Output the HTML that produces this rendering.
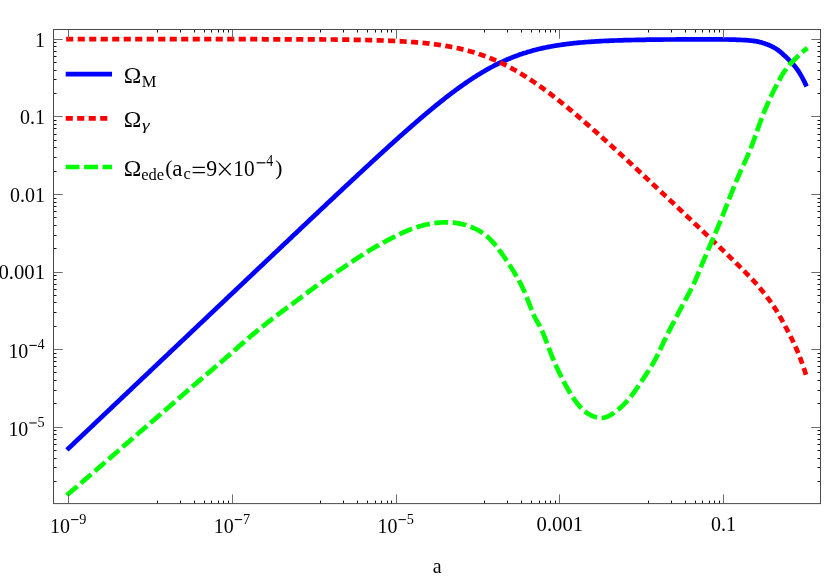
<!DOCTYPE html>
<html><head><meta charset="utf-8"><title>plot</title>
<style>
html,body{margin:0;padding:0;background:#fff;}
svg{display:block;font-family:"Liberation Serif",serif;}
</style></head><body>
<svg width="830" height="578" viewBox="0 0 830 578">
<rect width="830" height="578" fill="#fff"/>
<g fill="none" stroke-linecap="butt" stroke-linejoin="round">
<path d="M66.9,449.9 L68.7,448.2 L69.7,447.3 L70.7,446.3 L71.7,445.4 L72.7,444.4 L73.7,443.5 L74.7,442.5 L75.7,441.6 L76.7,440.6 L77.7,439.7 L78.7,438.7 L79.7,437.8 L80.7,436.8 L81.7,435.9 L82.7,434.9 L83.7,434.0 L84.7,433.1 L85.7,432.1 L86.7,431.2 L87.7,430.2 L88.7,429.3 L89.7,428.3 L90.7,427.4 L91.7,426.4 L92.7,425.5 L93.7,424.5 L94.7,423.6 L95.7,422.6 L96.7,421.7 L97.7,420.7 L98.7,419.8 L99.7,418.8 L100.7,417.9 L101.7,416.9 L102.7,416.0 L103.7,415.1 L104.7,414.1 L105.7,413.2 L106.7,412.2 L107.7,411.3 L108.7,410.3 L109.7,409.4 L110.7,408.4 L111.7,407.5 L112.7,406.5 L113.7,405.6 L114.7,404.6 L115.7,403.7 L116.7,402.7 L117.7,401.8 L118.7,400.8 L119.7,399.9 L120.7,398.9 L121.7,398.0 L122.7,397.0 L123.7,396.1 L124.7,395.2 L125.7,394.2 L126.7,393.3 L127.7,392.3 L128.7,391.4 L129.7,390.4 L130.7,389.5 L131.7,388.5 L132.7,387.6 L133.7,386.6 L134.7,385.7 L135.7,384.7 L136.7,383.8 L137.7,382.8 L138.7,381.9 L139.7,380.9 L140.7,380.0 L141.7,379.0 L142.7,378.1 L143.7,377.2 L144.7,376.2 L145.7,375.3 L146.7,374.3 L147.7,373.4 L148.7,372.4 L149.7,371.5 L150.7,370.5 L151.7,369.6 L152.7,368.6 L153.7,367.7 L154.7,366.7 L155.7,365.8 L156.7,364.8 L157.7,363.9 L158.7,362.9 L159.7,362.0 L160.7,361.0 L161.7,360.1 L162.7,359.2 L163.7,358.2 L164.7,357.3 L165.7,356.3 L166.7,355.4 L167.7,354.4 L168.7,353.5 L169.7,352.5 L170.7,351.6 L171.7,350.6 L172.7,349.7 L173.7,348.7 L174.7,347.8 L175.7,346.8 L176.7,345.9 L177.7,344.9 L178.7,344.0 L179.7,343.0 L180.7,342.1 L181.7,341.2 L182.7,340.2 L183.7,339.3 L184.7,338.3 L185.7,337.4 L186.7,336.4 L187.7,335.5 L188.7,334.5 L189.7,333.6 L190.7,332.6 L191.7,331.7 L192.7,330.7 L193.7,329.8 L194.7,328.8 L195.7,327.9 L196.7,326.9 L197.7,326.0 L198.7,325.0 L199.7,324.1 L200.7,323.2 L201.7,322.2 L202.7,321.3 L203.7,320.3 L204.7,319.4 L205.7,318.4 L206.7,317.5 L207.7,316.5 L208.7,315.6 L209.7,314.6 L210.7,313.7 L211.7,312.7 L212.7,311.8 L213.7,310.8 L214.7,309.9 L215.7,308.9 L216.7,308.0 L217.7,307.1 L218.7,306.1 L219.7,305.2 L220.7,304.2 L221.7,303.3 L222.7,302.3 L223.7,301.4 L224.7,300.4 L225.7,299.5 L226.7,298.5 L227.7,297.6 L228.7,296.6 L229.7,295.7 L230.7,294.7 L231.7,293.8 L232.7,292.8 L233.7,291.9 L234.7,291.0 L235.7,290.0 L236.7,289.1 L237.7,288.1 L238.7,287.2 L239.7,286.2 L240.7,285.3 L241.7,284.3 L242.7,283.4 L243.7,282.4 L244.7,281.5 L245.7,280.5 L246.7,279.6 L247.7,278.6 L248.7,277.7 L249.7,276.8 L250.7,275.8 L251.7,274.9 L252.7,273.9 L253.7,273.0 L254.7,272.0 L255.7,271.1 L256.7,270.1 L257.7,269.2 L258.7,268.2 L259.7,267.3 L260.7,266.3 L261.7,265.4 L262.7,264.5 L263.7,263.5 L264.7,262.6 L265.7,261.6 L266.7,260.7 L267.7,259.7 L268.7,258.8 L269.7,257.8 L270.7,256.9 L271.7,255.9 L272.7,255.0 L273.7,254.0 L274.7,253.1 L275.7,252.2 L276.7,251.2 L277.7,250.3 L278.7,249.3 L279.7,248.4 L280.7,247.4 L281.7,246.5 L282.7,245.5 L283.7,244.6 L284.7,243.6 L285.7,242.7 L286.7,241.8 L287.7,240.8 L288.7,239.9 L289.7,238.9 L290.7,238.0 L291.7,237.0 L292.7,236.1 L293.7,235.1 L294.7,234.2 L295.7,233.3 L296.7,232.3 L297.7,231.4 L298.7,230.4 L299.7,229.5 L300.7,228.5 L301.7,227.6 L302.7,226.6 L303.7,225.7 L304.7,224.8 L305.7,223.8 L306.7,222.9 L307.7,221.9 L308.7,221.0 L309.7,220.0 L310.7,219.1 L311.7,218.2 L312.7,217.2 L313.7,216.3 L314.7,215.3 L315.7,214.4 L316.7,213.5 L317.7,212.5 L318.7,211.6 L319.7,210.6 L320.7,209.7 L321.7,208.7 L322.7,207.8 L323.7,206.9 L324.7,205.9 L325.7,205.0 L326.7,204.0 L327.7,203.1 L328.7,202.2 L329.7,201.2 L330.7,200.3 L331.7,199.3 L332.7,198.4 L333.7,197.5 L334.7,196.5 L335.7,195.6 L336.7,194.7 L337.7,193.7 L338.7,192.8 L339.7,191.8 L340.7,190.9 L341.7,190.0 L342.7,189.0 L343.7,188.1 L344.7,187.2 L345.7,186.2 L346.7,185.3 L347.7,184.4 L348.7,183.4 L349.7,182.5 L350.7,181.6 L351.7,180.6 L352.7,179.7 L353.7,178.8 L354.7,177.8 L355.7,176.9 L356.7,176.0 L357.7,175.0 L358.7,174.1 L359.7,173.2 L360.7,172.3 L361.7,171.3 L362.7,170.4 L363.7,169.5 L364.7,168.6 L365.7,167.6 L366.7,166.7 L367.7,165.8 L368.7,164.9 L369.7,163.9 L370.7,163.0 L371.7,162.1 L372.7,161.2 L373.7,160.2 L374.7,159.3 L375.7,158.4 L376.7,157.5 L377.7,156.6 L378.7,155.7 L379.7,154.7 L380.7,153.8 L381.7,152.9 L382.7,152.0 L383.7,151.1 L384.7,150.2 L385.7,149.3 L386.7,148.3 L387.7,147.4 L388.7,146.5 L389.7,145.6 L390.7,144.7 L391.7,143.8 L392.7,142.9 L393.7,142.0 L394.7,141.1 L395.7,140.2 L396.7,139.3 L397.7,138.4 L398.7,137.5 L399.7,136.6 L400.7,135.7 L401.7,134.8 L402.7,134.0 L403.7,133.1 L404.7,132.2 L405.7,131.3 L406.7,130.4 L407.7,129.5 L408.7,128.7 L409.7,127.8 L410.7,126.9 L411.7,126.0 L412.7,125.1 L413.7,124.3 L414.7,123.4 L415.7,122.5 L416.7,121.7 L417.7,120.8 L418.7,120.0 L419.7,119.1 L420.7,118.2 L421.7,117.4 L422.7,116.5 L423.7,115.7 L424.7,114.8 L425.7,114.0 L426.7,113.1 L427.7,112.3 L428.7,111.5 L429.7,110.6 L430.7,109.8 L431.7,109.0 L432.7,108.2 L433.7,107.3 L434.7,106.5 L435.7,105.7 L436.7,104.9 L437.7,104.1 L438.7,103.3 L439.7,102.5 L440.7,101.7 L441.7,100.9 L442.7,100.1 L443.7,99.3 L444.7,98.5 L445.7,97.7 L446.7,96.9 L447.7,96.2 L448.7,95.4 L449.7,94.6 L450.7,93.9 L451.7,93.1 L452.7,92.4 L453.7,91.6 L454.7,90.9 L455.7,90.1 L456.7,89.4 L457.7,88.7 L458.7,87.9 L459.7,87.2 L460.7,86.5 L461.7,85.8 L462.7,85.1 L463.7,84.4 L464.7,83.7 L465.7,83.0 L466.7,82.3 L467.7,81.6 L468.7,80.9 L469.7,80.3 L470.7,79.6 L471.7,78.9 L472.7,78.3 L473.7,77.6 L474.7,77.0 L475.7,76.4 L476.7,75.7 L477.7,75.1 L478.7,74.5 L479.7,73.9 L480.7,73.3 L481.7,72.7 L482.7,72.1 L483.7,71.5 L484.7,70.9 L485.7,70.3 L486.7,69.7 L487.7,69.2 L488.7,68.6 L489.7,68.1 L490.7,67.5 L491.7,67.0 L492.7,66.5 L493.7,65.9 L494.7,65.4 L495.7,64.9 L496.7,64.4 L497.7,63.9 L498.7,63.4 L499.7,62.9 L500.7,62.5 L501.7,62.0 L502.7,61.5 L503.7,61.1 L504.7,60.6 L505.7,60.2 L506.7,59.7 L507.7,59.3 L508.7,58.9 L509.7,58.5 L510.7,58.1 L511.7,57.6 L512.7,57.3 L513.7,56.9 L514.7,56.5 L515.7,56.1 L516.7,55.7 L517.7,55.4 L518.7,55.0 L519.7,54.6 L520.7,54.3 L521.7,54.0 L522.7,53.6 L523.7,53.3 L524.7,53.0 L525.7,52.7 L526.7,52.4 L527.7,52.0 L528.7,51.7 L529.7,51.5 L530.7,51.2 L531.7,50.9 L532.7,50.6 L533.7,50.3 L534.7,50.1 L535.7,49.8 L536.7,49.6 L537.7,49.3 L538.7,49.1 L539.7,48.8 L540.7,48.6 L541.7,48.4 L542.7,48.1 L543.7,47.9 L544.7,47.7 L545.7,47.5 L546.7,47.3 L547.7,47.1 L548.7,46.9 L549.7,46.7 L550.7,46.5 L551.7,46.3 L552.7,46.2 L553.7,46.0 L554.7,45.8 L555.7,45.6 L556.7,45.5 L557.7,45.3 L558.7,45.2 L559.7,45.0 L560.7,44.9 L561.7,44.7 L562.7,44.6 L563.7,44.4 L564.7,44.3 L565.7,44.2 L566.7,44.0 L567.7,43.9 L568.7,43.8 L569.7,43.7 L570.7,43.6 L571.7,43.5 L572.7,43.3 L573.7,43.2 L574.7,43.1 L575.7,43.0 L576.7,42.9 L577.7,42.8 L578.7,42.7 L579.7,42.6 L580.7,42.5 L581.7,42.5 L582.7,42.4 L583.7,42.3 L584.7,42.2 L585.7,42.1 L586.7,42.0 L587.7,42.0 L588.7,41.9 L589.7,41.8 L590.7,41.8 L591.7,41.7 L592.7,41.6 L593.7,41.6 L594.7,41.5 L595.7,41.4 L596.7,41.4 L597.7,41.3 L598.7,41.3 L599.7,41.2 L600.7,41.1 L601.7,41.1 L602.7,41.0 L603.7,41.0 L604.7,40.9 L605.7,40.9 L606.7,40.9 L607.7,40.8 L608.7,40.8 L609.7,40.7 L610.7,40.7 L611.7,40.6 L612.7,40.6 L613.7,40.6 L614.7,40.5 L615.7,40.5 L616.7,40.5 L617.7,40.4 L618.7,40.4 L619.7,40.4 L620.7,40.3 L621.7,40.3 L622.7,40.3 L623.7,40.2 L624.7,40.2 L625.7,40.2 L626.7,40.2 L627.7,40.1 L628.7,40.1 L629.7,40.1 L630.7,40.1 L631.7,40.0 L632.7,40.0 L633.7,40.0 L634.7,40.0 L635.7,39.9 L636.7,39.9 L637.7,39.9 L638.7,39.9 L639.7,39.9 L640.7,39.8 L641.7,39.8 L642.7,39.8 L643.7,39.8 L644.7,39.8 L645.7,39.8 L646.7,39.7 L647.7,39.7 L648.7,39.7 L649.7,39.7 L650.7,39.7 L651.7,39.7 L652.7,39.7 L653.7,39.7 L654.7,39.6 L655.7,39.6 L656.7,39.6 L657.7,39.6 L658.7,39.6 L659.7,39.6 L660.7,39.6 L661.7,39.6 L662.7,39.6 L663.7,39.5 L664.7,39.5 L665.7,39.5 L666.7,39.5 L667.7,39.5 L668.7,39.5 L669.7,39.5 L670.7,39.5 L671.7,39.5 L672.7,39.5 L673.7,39.5 L674.7,39.5 L675.7,39.5 L676.7,39.4 L677.7,39.4 L678.7,39.4 L679.7,39.4 L680.7,39.4 L681.7,39.4 L682.7,39.4 L683.7,39.4 L684.7,39.4 L685.7,39.4 L686.7,39.4 L687.7,39.4 L688.7,39.4 L689.7,39.4 L690.7,39.4 L691.7,39.4 L692.7,39.4 L693.7,39.4 L694.7,39.4 L695.7,39.4 L696.7,39.4 L697.7,39.4 L698.7,39.4 L699.7,39.4 L700.7,39.4 L701.7,39.4 L702.7,39.4 L703.7,39.4 L704.7,39.4 L705.7,39.4 L706.7,39.4 L707.7,39.4 L708.7,39.4 L709.7,39.4 L710.7,39.4 L711.7,39.4 L712.7,39.4 L713.7,39.4 L714.7,39.4 L715.7,39.4 L716.7,39.4 L717.7,39.4 L718.7,39.4 L719.7,39.4 L720.7,39.4 L721.7,39.4 L722.7,39.4 L723.7,39.5 L724.7,39.5 L725.7,39.5 L726.7,39.5 L727.7,39.5 L728.7,39.5 L729.7,39.6 L730.7,39.6 L731.7,39.6 L732.7,39.6 L733.7,39.7 L734.7,39.7 L735.7,39.7 L736.7,39.8 L737.7,39.8 L738.7,39.8 L739.7,39.9 L740.7,39.9 L741.7,40.0 L742.7,40.0 L743.7,40.1 L744.7,40.1 L745.7,40.2 L746.7,40.2 L747.7,40.3 L748.7,40.4 L749.7,40.5 L750.7,40.6 L751.7,40.7 L752.7,40.8 L753.7,40.9 L754.7,41.1 L755.7,41.2 L756.7,41.4 L757.7,41.6 L758.7,41.8 L759.7,42.1 L760.7,42.3 L761.7,42.6 L762.7,42.9 L763.7,43.2 L764.7,43.5 L765.7,43.9 L766.7,44.2 L767.7,44.6 L768.7,45.0 L769.7,45.4 L770.7,45.9 L771.7,46.4 L772.7,46.9 L773.7,47.4 L774.7,48.0 L775.7,48.6 L776.7,49.2 L777.7,49.9 L778.7,50.7 L779.7,51.4 L780.7,52.2 L781.7,53.1 L782.7,54.0 L783.7,54.9 L784.7,55.8 L785.7,56.7 L786.7,57.7 L787.7,58.6 L788.7,59.6 L789.7,60.6 L790.7,61.6 L791.7,62.6 L792.7,63.7 L793.7,64.9 L794.7,66.1 L795.7,67.4 L796.7,68.7 L797.7,70.1 L798.7,71.6 L799.7,73.2 L800.7,74.9 L801.7,76.6 L802.7,78.5 L803.7,80.4 L804.7,82.4 L805.5,84.1 L806.6,86.4" stroke="#0000ff" stroke-width="4.7"/>
<path d="M66.2,39.2 L68.7,39.2 L69.7,39.2 L70.7,39.2 L71.7,39.2 L72.7,39.2 L73.7,39.2 L74.7,39.2 L75.7,39.2 L76.7,39.2 L77.7,39.2 L78.7,39.2 L79.7,39.2 L80.7,39.2 L81.7,39.2 L82.7,39.2 L83.7,39.2 L84.7,39.2 L85.7,39.2 L86.7,39.2 L87.7,39.2 L88.7,39.2 L89.7,39.2 L90.7,39.2 L91.7,39.2 L92.7,39.2 L93.7,39.2 L94.7,39.2 L95.7,39.2 L96.7,39.2 L97.7,39.2 L98.7,39.2 L99.7,39.2 L100.7,39.2 L101.7,39.2 L102.7,39.2 L103.7,39.2 L104.7,39.2 L105.7,39.2 L106.7,39.2 L107.7,39.2 L108.7,39.2 L109.7,39.2 L110.7,39.2 L111.7,39.2 L112.7,39.2 L113.7,39.2 L114.7,39.2 L115.7,39.2 L116.7,39.2 L117.7,39.2 L118.7,39.2 L119.7,39.2 L120.7,39.2 L121.7,39.2 L122.7,39.2 L123.7,39.2 L124.7,39.2 L125.7,39.2 L126.7,39.2 L127.7,39.2 L128.7,39.2 L129.7,39.2 L130.7,39.2 L131.7,39.2 L132.7,39.2 L133.7,39.2 L134.7,39.2 L135.7,39.2 L136.7,39.2 L137.7,39.2 L138.7,39.2 L139.7,39.2 L140.7,39.2 L141.7,39.2 L142.7,39.2 L143.7,39.2 L144.7,39.2 L145.7,39.2 L146.7,39.2 L147.7,39.2 L148.7,39.2 L149.7,39.2 L150.7,39.2 L151.7,39.2 L152.7,39.2 L153.7,39.2 L154.7,39.2 L155.7,39.2 L156.7,39.2 L157.7,39.2 L158.7,39.2 L159.7,39.2 L160.7,39.2 L161.7,39.2 L162.7,39.2 L163.7,39.2 L164.7,39.2 L165.7,39.2 L166.7,39.2 L167.7,39.2 L168.7,39.2 L169.7,39.2 L170.7,39.2 L171.7,39.2 L172.7,39.2 L173.7,39.2 L174.7,39.2 L175.7,39.2 L176.7,39.2 L177.7,39.2 L178.7,39.2 L179.7,39.2 L180.7,39.2 L181.7,39.2 L182.7,39.2 L183.7,39.2 L184.7,39.2 L185.7,39.2 L186.7,39.2 L187.7,39.2 L188.7,39.2 L189.7,39.2 L190.7,39.2 L191.7,39.2 L192.7,39.2 L193.7,39.2 L194.7,39.2 L195.7,39.2 L196.7,39.2 L197.7,39.2 L198.7,39.2 L199.7,39.2 L200.7,39.2 L201.7,39.2 L202.7,39.2 L203.7,39.2 L204.7,39.2 L205.7,39.2 L206.7,39.2 L207.7,39.2 L208.7,39.2 L209.7,39.2 L210.7,39.2 L211.7,39.2 L212.7,39.2 L213.7,39.2 L214.7,39.2 L215.7,39.2 L216.7,39.2 L217.7,39.2 L218.7,39.2 L219.7,39.2 L220.7,39.2 L221.7,39.2 L222.7,39.2 L223.7,39.2 L224.7,39.2 L225.7,39.2 L226.7,39.2 L227.7,39.2 L228.7,39.2 L229.7,39.2 L230.7,39.2 L231.7,39.2 L232.7,39.2 L233.7,39.2 L234.7,39.2 L235.7,39.2 L236.7,39.2 L237.7,39.2 L238.7,39.2 L239.7,39.2 L240.7,39.2 L241.7,39.2 L242.7,39.2 L243.7,39.2 L244.7,39.2 L245.7,39.2 L246.7,39.2 L247.7,39.2 L248.7,39.2 L249.7,39.2 L250.7,39.2 L251.7,39.2 L252.7,39.2 L253.7,39.2 L254.7,39.2 L255.7,39.2 L256.7,39.2 L257.7,39.2 L258.7,39.2 L259.7,39.2 L260.7,39.2 L261.7,39.2 L262.7,39.2 L263.7,39.3 L264.7,39.3 L265.7,39.3 L266.7,39.3 L267.7,39.3 L268.7,39.3 L269.7,39.3 L270.7,39.3 L271.7,39.3 L272.7,39.3 L273.7,39.3 L274.7,39.3 L275.7,39.3 L276.7,39.3 L277.7,39.3 L278.7,39.3 L279.7,39.3 L280.7,39.3 L281.7,39.3 L282.7,39.3 L283.7,39.3 L284.7,39.3 L285.7,39.3 L286.7,39.3 L287.7,39.3 L288.7,39.3 L289.7,39.3 L290.7,39.3 L291.7,39.3 L292.7,39.3 L293.7,39.3 L294.7,39.3 L295.7,39.3 L296.7,39.3 L297.7,39.3 L298.7,39.3 L299.7,39.3 L300.7,39.3 L301.7,39.3 L302.7,39.3 L303.7,39.3 L304.7,39.4 L305.7,39.4 L306.7,39.4 L307.7,39.4 L308.7,39.4 L309.7,39.4 L310.7,39.4 L311.7,39.4 L312.7,39.4 L313.7,39.4 L314.7,39.4 L315.7,39.4 L316.7,39.4 L317.7,39.4 L318.7,39.4 L319.7,39.4 L320.7,39.4 L321.7,39.4 L322.7,39.5 L323.7,39.5 L324.7,39.5 L325.7,39.5 L326.7,39.5 L327.7,39.5 L328.7,39.5 L329.7,39.5 L330.7,39.5 L331.7,39.5 L332.7,39.5 L333.7,39.5 L334.7,39.5 L335.7,39.6 L336.7,39.6 L337.7,39.6 L338.7,39.6 L339.7,39.6 L340.7,39.6 L341.7,39.6 L342.7,39.6 L343.7,39.6 L344.7,39.7 L345.7,39.7 L346.7,39.7 L347.7,39.7 L348.7,39.7 L349.7,39.7 L350.7,39.7 L351.7,39.8 L352.7,39.8 L353.7,39.8 L354.7,39.8 L355.7,39.8 L356.7,39.8 L357.7,39.9 L358.7,39.9 L359.7,39.9 L360.7,39.9 L361.7,39.9 L362.7,39.9 L363.7,40.0 L364.7,40.0 L365.7,40.0 L366.7,40.0 L367.7,40.1 L368.7,40.1 L369.7,40.1 L370.7,40.1 L371.7,40.2 L372.7,40.2 L373.7,40.2 L374.7,40.2 L375.7,40.3 L376.7,40.3 L377.7,40.3 L378.7,40.4 L379.7,40.4 L380.7,40.4 L381.7,40.5 L382.7,40.5 L383.7,40.5 L384.7,40.6 L385.7,40.6 L386.7,40.6 L387.7,40.7 L388.7,40.7 L389.7,40.8 L390.7,40.8 L391.7,40.8 L392.7,40.9 L393.7,40.9 L394.7,41.0 L395.7,41.0 L396.7,41.1 L397.7,41.1 L398.7,41.2 L399.7,41.2 L400.7,41.3 L401.7,41.3 L402.7,41.4 L403.7,41.5 L404.7,41.5 L405.7,41.6 L406.7,41.6 L407.7,41.7 L408.7,41.8 L409.7,41.8 L410.7,41.9 L411.7,42.0 L412.7,42.1 L413.7,42.1 L414.7,42.2 L415.7,42.3 L416.7,42.4 L417.7,42.5 L418.7,42.6 L419.7,42.6 L420.7,42.7 L421.7,42.8 L422.7,42.9 L423.7,43.0 L424.7,43.1 L425.7,43.2 L426.7,43.3 L427.7,43.4 L428.7,43.5 L429.7,43.7 L430.7,43.8 L431.7,43.9 L432.7,44.0 L433.7,44.1 L434.7,44.3 L435.7,44.4 L436.7,44.5 L437.7,44.7 L438.7,44.8 L439.7,45.0 L440.7,45.1 L441.7,45.3 L442.7,45.4 L443.7,45.6 L444.7,45.7 L445.7,45.9 L446.7,46.1 L447.7,46.2 L448.7,46.4 L449.7,46.6 L450.7,46.8 L451.7,47.0 L452.7,47.2 L453.7,47.4 L454.7,47.6 L455.7,47.8 L456.7,48.0 L457.7,48.2 L458.7,48.4 L459.7,48.6 L460.7,48.9 L461.7,49.1 L462.7,49.4 L463.7,49.6 L464.7,49.9 L465.7,50.1 L466.7,50.4 L467.7,50.6 L468.7,50.9 L469.7,51.2 L470.7,51.5 L471.7,51.8 L472.7,52.0 L473.7,52.3 L474.7,52.6 L475.7,53.0 L476.7,53.3 L477.7,53.6 L478.7,53.9 L479.7,54.3 L480.7,54.6 L481.7,55.0 L482.7,55.3 L483.7,55.7 L484.7,56.0 L485.7,56.4 L486.7,56.8 L487.7,57.2 L488.7,57.6 L489.7,58.0 L490.7,58.4 L491.7,58.8 L492.7,59.2 L493.7,59.6 L494.7,60.0 L495.7,60.5 L496.7,60.9 L497.7,61.4 L498.7,61.8 L499.7,62.3 L500.7,62.8 L501.7,63.2 L502.7,63.7 L503.7,64.2 L504.7,64.7 L505.7,65.2 L506.7,65.7 L507.7,66.2 L508.7,66.8 L509.7,67.3 L510.7,67.8 L511.7,68.4 L512.7,68.9 L513.7,69.5 L514.7,70.0 L515.7,70.6 L516.7,71.2 L517.7,71.8 L518.7,72.4 L519.7,72.9 L520.7,73.5 L521.7,74.2 L522.7,74.8 L523.7,75.4 L524.7,76.0 L525.7,76.6 L526.7,77.3 L527.7,77.9 L528.7,78.6 L529.7,79.2 L530.7,79.9 L531.7,80.6 L532.7,81.2 L533.7,81.9 L534.7,82.6 L535.7,83.3 L536.7,84.0 L537.7,84.7 L538.7,85.4 L539.7,86.1 L540.7,86.8 L541.7,87.5 L542.7,88.2 L543.7,89.0 L544.7,89.7 L545.7,90.4 L546.7,91.2 L547.7,91.9 L548.7,92.7 L549.7,93.4 L550.7,94.2 L551.7,95.0 L552.7,95.7 L553.7,96.5 L554.7,97.3 L555.7,98.1 L556.7,98.8 L557.7,99.6 L558.7,100.4 L559.7,101.2 L560.7,102.0 L561.7,102.8 L562.7,103.6 L563.7,104.4 L564.7,105.2 L565.7,106.1 L566.7,106.9 L567.7,107.7 L568.7,108.5 L569.7,109.4 L570.7,110.2 L571.7,111.0 L572.7,111.9 L573.7,112.7 L574.7,113.5 L575.7,114.4 L576.7,115.2 L577.7,116.1 L578.7,116.9 L579.7,117.8 L580.7,118.6 L581.7,119.5 L582.7,120.4 L583.7,121.2 L584.7,122.1 L585.7,123.0 L586.7,123.8 L587.7,124.7 L588.7,125.6 L589.7,126.4 L590.7,127.3 L591.7,128.2 L592.7,129.1 L593.7,130.0 L594.7,130.8 L595.7,131.7 L596.7,132.6 L597.7,133.5 L598.7,134.4 L599.7,135.3 L600.7,136.2 L601.7,137.1 L602.7,138.0 L603.7,138.9 L604.7,139.8 L605.7,140.7 L606.7,141.6 L607.7,142.5 L608.7,143.4 L609.7,144.3 L610.7,145.2 L611.7,146.1 L612.7,147.0 L613.7,147.9 L614.7,148.8 L615.7,149.7 L616.7,150.7 L617.7,151.6 L618.7,152.5 L619.7,153.4 L620.7,154.3 L621.7,155.2 L622.7,156.1 L623.7,157.1 L624.7,158.0 L625.7,158.9 L626.7,159.8 L627.7,160.7 L628.7,161.7 L629.7,162.6 L630.7,163.5 L631.7,164.4 L632.7,165.4 L633.7,166.3 L634.7,167.2 L635.7,168.1 L636.7,169.1 L637.7,170.0 L638.7,170.9 L639.7,171.9 L640.7,172.8 L641.7,173.7 L642.7,174.6 L643.7,175.6 L644.7,176.5 L645.7,177.4 L646.7,178.4 L647.7,179.3 L648.7,180.2 L649.7,181.2 L650.7,182.1 L651.7,183.0 L652.7,184.0 L653.7,184.9 L654.7,185.8 L655.7,186.8 L656.7,187.7 L657.7,188.6 L658.7,189.6 L659.7,190.5 L660.7,191.5 L661.7,192.4 L662.7,193.3 L663.7,194.3 L664.7,195.2 L665.7,196.2 L666.7,197.1 L667.7,198.0 L668.7,199.0 L669.7,199.9 L670.7,200.8 L671.7,201.8 L672.7,202.7 L673.7,203.7 L674.7,204.6 L675.7,205.6 L676.7,206.5 L677.7,207.4 L678.7,208.4 L679.7,209.3 L680.7,210.3 L681.7,211.2 L682.7,212.1 L683.7,213.1 L684.7,214.0 L685.7,215.0 L686.7,215.9 L687.7,216.9 L688.7,217.8 L689.7,218.7 L690.7,219.7 L691.7,220.6 L692.7,221.6 L693.7,222.5 L694.7,223.5 L695.7,224.4 L696.7,225.4 L697.7,226.3 L698.7,227.3 L699.7,228.2 L700.7,229.1 L701.7,230.1 L702.7,231.0 L703.7,232.0 L704.7,232.9 L705.7,233.9 L706.7,234.8 L707.7,235.8 L708.7,236.7 L709.7,237.7 L710.7,238.6 L711.7,239.6 L712.7,240.5 L713.7,241.5 L714.7,242.4 L715.7,243.4 L716.7,244.3 L717.7,245.3 L718.7,246.2 L719.7,247.2 L720.7,248.2 L721.7,249.1 L722.7,250.1 L723.7,251.0 L724.7,252.0 L725.7,253.0 L726.7,253.9 L727.7,254.9 L728.7,255.9 L729.7,256.8 L730.7,257.8 L731.7,258.8 L732.7,259.7 L733.7,260.7 L734.7,261.7 L735.7,262.7 L736.7,263.7 L737.7,264.6 L738.7,265.6 L739.7,266.6 L740.7,267.6 L741.7,268.6 L742.7,269.6 L743.7,270.6 L744.7,271.6 L745.7,272.6 L746.7,273.6 L747.7,274.6 L748.7,275.7 L749.7,276.7 L750.7,277.7 L751.7,278.8 L752.7,279.9 L753.7,280.9 L754.7,282.0 L755.7,283.1 L756.7,284.3 L757.7,285.4 L758.7,286.6 L759.7,287.8 L760.7,289.0 L761.7,290.2 L762.7,291.4 L763.7,292.7 L764.7,293.9 L765.7,295.2 L766.7,296.5 L767.7,297.9 L768.7,299.2 L769.7,300.6 L770.7,302.0 L771.7,303.4 L772.7,304.9 L773.7,306.4 L774.7,307.9 L775.7,309.4 L776.7,311.0 L777.7,312.7 L778.7,314.3 L779.7,316.1 L780.7,317.8 L781.7,319.6 L782.7,321.5 L783.7,323.3 L784.7,325.2 L785.7,327.1 L786.7,328.9 L787.7,330.8 L788.7,332.8 L789.7,334.7 L790.7,336.7 L791.7,338.6 L792.7,340.7 L793.7,342.8 L794.7,344.9 L795.7,347.2 L796.7,349.5 L797.7,351.8 L798.7,354.3 L799.7,356.8 L800.7,359.4 L801.7,362.1 L802.7,364.9 L803.7,367.8 L804.7,370.8 L805.5,373.2 L806.3,375.6" stroke="#ff0000" stroke-width="4.7" stroke-dasharray="7.1 4.4"/>
<path d="M66.8,495.2 L68.7,493.6 L69.7,492.7 L70.7,491.9 L71.7,491.0 L72.7,490.2 L73.7,489.3 L74.7,488.5 L75.7,487.6 L76.7,486.8 L77.7,485.9 L78.7,485.0 L79.7,484.2 L80.7,483.3 L81.7,482.5 L82.7,481.6 L83.7,480.7 L84.7,479.9 L85.7,479.0 L86.7,478.2 L87.7,477.3 L88.7,476.4 L89.7,475.6 L90.7,474.7 L91.7,473.8 L92.7,473.0 L93.7,472.1 L94.7,471.2 L95.7,470.4 L96.7,469.5 L97.7,468.7 L98.7,467.8 L99.7,466.9 L100.7,466.1 L101.7,465.2 L102.7,464.3 L103.7,463.5 L104.7,462.6 L105.7,461.7 L106.7,460.9 L107.7,460.0 L108.7,459.1 L109.7,458.3 L110.7,457.4 L111.7,456.5 L112.7,455.7 L113.7,454.8 L114.7,453.9 L115.7,453.1 L116.7,452.2 L117.7,451.3 L118.7,450.5 L119.7,449.6 L120.7,448.7 L121.7,447.9 L122.7,447.0 L123.7,446.1 L124.7,445.2 L125.7,444.4 L126.7,443.5 L127.7,442.6 L128.7,441.8 L129.7,440.9 L130.7,440.0 L131.7,439.2 L132.7,438.3 L133.7,437.4 L134.7,436.6 L135.7,435.7 L136.7,434.8 L137.7,434.0 L138.7,433.1 L139.7,432.2 L140.7,431.4 L141.7,430.5 L142.7,429.7 L143.7,428.8 L144.7,427.9 L145.7,427.1 L146.7,426.2 L147.7,425.3 L148.7,424.5 L149.7,423.6 L150.7,422.7 L151.7,421.9 L152.7,421.0 L153.7,420.1 L154.7,419.3 L155.7,418.4 L156.7,417.6 L157.7,416.7 L158.7,415.8 L159.7,415.0 L160.7,414.1 L161.7,413.2 L162.7,412.4 L163.7,411.5 L164.7,410.6 L165.7,409.8 L166.7,408.9 L167.7,408.0 L168.7,407.1 L169.7,406.3 L170.7,405.4 L171.7,404.5 L172.7,403.7 L173.7,402.8 L174.7,401.9 L175.7,401.0 L176.7,400.2 L177.7,399.3 L178.7,398.4 L179.7,397.6 L180.7,396.7 L181.7,395.8 L182.7,395.0 L183.7,394.1 L184.7,393.2 L185.7,392.3 L186.7,391.5 L187.7,390.6 L188.7,389.7 L189.7,388.9 L190.7,388.0 L191.7,387.2 L192.7,386.3 L193.7,385.4 L194.7,384.6 L195.7,383.7 L196.7,382.8 L197.7,382.0 L198.7,381.1 L199.7,380.3 L200.7,379.4 L201.7,378.6 L202.7,377.7 L203.7,376.9 L204.7,376.0 L205.7,375.1 L206.7,374.3 L207.7,373.4 L208.7,372.6 L209.7,371.8 L210.7,370.9 L211.7,370.1 L212.7,369.2 L213.7,368.4 L214.7,367.5 L215.7,366.6 L216.7,365.8 L217.7,364.9 L218.7,364.1 L219.7,363.2 L220.7,362.4 L221.7,361.5 L222.7,360.6 L223.7,359.8 L224.7,358.9 L225.7,358.0 L226.7,357.2 L227.7,356.3 L228.7,355.4 L229.7,354.5 L230.7,353.7 L231.7,352.8 L232.7,351.9 L233.7,351.0 L234.7,350.1 L235.7,349.3 L236.7,348.4 L237.7,347.5 L238.7,346.6 L239.7,345.7 L240.7,344.9 L241.7,344.0 L242.7,343.1 L243.7,342.3 L244.7,341.4 L245.7,340.5 L246.7,339.7 L247.7,338.8 L248.7,337.9 L249.7,337.1 L250.7,336.2 L251.7,335.4 L252.7,334.6 L253.7,333.7 L254.7,332.9 L255.7,332.1 L256.7,331.2 L257.7,330.4 L258.7,329.6 L259.7,328.8 L260.7,328.0 L261.7,327.2 L262.7,326.4 L263.7,325.6 L264.7,324.8 L265.7,324.0 L266.7,323.2 L267.7,322.4 L268.7,321.6 L269.7,320.8 L270.7,320.1 L271.7,319.3 L272.7,318.5 L273.7,317.8 L274.7,317.0 L275.7,316.2 L276.7,315.5 L277.7,314.7 L278.7,314.0 L279.7,313.2 L280.7,312.5 L281.7,311.7 L282.7,311.0 L283.7,310.3 L284.7,309.5 L285.7,308.8 L286.7,308.0 L287.7,307.3 L288.7,306.6 L289.7,305.8 L290.7,305.1 L291.7,304.4 L292.7,303.6 L293.7,302.9 L294.7,302.1 L295.7,301.4 L296.7,300.6 L297.7,299.9 L298.7,299.2 L299.7,298.4 L300.7,297.7 L301.7,296.9 L302.7,296.2 L303.7,295.4 L304.7,294.7 L305.7,293.9 L306.7,293.2 L307.7,292.4 L308.7,291.7 L309.7,290.9 L310.7,290.2 L311.7,289.4 L312.7,288.7 L313.7,288.0 L314.7,287.2 L315.7,286.5 L316.7,285.8 L317.7,285.0 L318.7,284.3 L319.7,283.6 L320.7,282.9 L321.7,282.2 L322.7,281.5 L323.7,280.8 L324.7,280.1 L325.7,279.4 L326.7,278.7 L327.7,278.0 L328.7,277.3 L329.7,276.6 L330.7,276.0 L331.7,275.3 L332.7,274.6 L333.7,273.9 L334.7,273.3 L335.7,272.6 L336.7,271.9 L337.7,271.3 L338.7,270.6 L339.7,269.9 L340.7,269.3 L341.7,268.6 L342.7,267.9 L343.7,267.3 L344.7,266.6 L345.7,265.9 L346.7,265.3 L347.7,264.6 L348.7,263.9 L349.7,263.3 L350.7,262.6 L351.7,261.9 L352.7,261.2 L353.7,260.6 L354.7,259.9 L355.7,259.2 L356.7,258.6 L357.7,257.9 L358.7,257.3 L359.7,256.6 L360.7,256.0 L361.7,255.3 L362.7,254.7 L363.7,254.0 L364.7,253.4 L365.7,252.8 L366.7,252.1 L367.7,251.5 L368.7,250.9 L369.7,250.3 L370.7,249.7 L371.7,249.1 L372.7,248.5 L373.7,247.9 L374.7,247.3 L375.7,246.7 L376.7,246.2 L377.7,245.6 L378.7,245.1 L379.7,244.5 L380.7,243.9 L381.7,243.4 L382.7,242.9 L383.7,242.3 L384.7,241.8 L385.7,241.3 L386.7,240.7 L387.7,240.2 L388.7,239.7 L389.7,239.2 L390.7,238.6 L391.7,238.1 L392.7,237.6 L393.7,237.1 L394.7,236.6 L395.7,236.1 L396.7,235.6 L397.7,235.1 L398.7,234.6 L399.7,234.1 L400.7,233.6 L401.7,233.1 L402.7,232.7 L403.7,232.2 L404.7,231.8 L405.7,231.3 L406.7,230.9 L407.7,230.5 L408.7,230.1 L409.7,229.7 L410.7,229.3 L411.7,228.9 L412.7,228.5 L413.7,228.2 L414.7,227.8 L415.7,227.5 L416.7,227.2 L417.7,226.9 L418.7,226.6 L419.7,226.3 L420.7,226.0 L421.7,225.7 L422.7,225.4 L423.7,225.2 L424.7,224.9 L425.7,224.7 L426.7,224.5 L427.7,224.3 L428.7,224.1 L429.7,223.9 L430.7,223.7 L431.7,223.5 L432.7,223.4 L433.7,223.2 L434.7,223.1 L435.7,223.0 L436.7,222.9 L437.7,222.8 L438.7,222.7 L439.7,222.6 L440.7,222.5 L441.7,222.5 L442.7,222.4 L443.7,222.4 L444.7,222.4 L445.7,222.3 L446.7,222.3 L447.7,222.3 L448.7,222.4 L449.7,222.4 L450.7,222.5 L451.7,222.5 L452.7,222.6 L453.7,222.7 L454.7,222.8 L455.7,222.9 L456.7,223.1 L457.7,223.2 L458.7,223.4 L459.7,223.6 L460.7,223.8 L461.7,224.0 L462.7,224.2 L463.7,224.5 L464.7,224.8 L465.7,225.0 L466.7,225.4 L467.7,225.7 L468.7,226.0 L469.7,226.4 L470.7,226.8 L471.7,227.2 L472.7,227.6 L473.7,228.0 L474.7,228.5 L475.7,229.0 L476.7,229.5 L477.7,230.0 L478.7,230.6 L479.7,231.1 L480.7,231.7 L481.7,232.4 L482.7,233.0 L483.7,233.7 L484.7,234.5 L485.7,235.2 L486.7,236.0 L487.7,236.9 L488.7,237.8 L489.7,238.8 L490.7,239.8 L491.7,240.8 L492.7,241.9 L493.7,243.1 L494.7,244.3 L495.7,245.5 L496.7,246.7 L497.7,248.0 L498.7,249.3 L499.7,250.7 L500.7,252.0 L501.7,253.4 L502.7,254.8 L503.7,256.3 L504.7,257.7 L505.7,259.2 L506.7,260.7 L507.7,262.2 L508.7,263.7 L509.7,265.3 L510.7,266.8 L511.7,268.4 L512.7,270.0 L513.7,271.6 L514.7,273.2 L515.7,274.9 L516.7,276.6 L517.7,278.3 L518.7,280.1 L519.7,282.0 L520.7,283.9 L521.7,285.9 L522.7,288.0 L523.7,290.1 L524.7,292.4 L525.7,294.8 L526.7,297.2 L527.7,299.8 L528.7,302.3 L529.7,304.9 L530.7,307.5 L531.7,310.0 L532.7,312.4 L533.7,314.8 L534.7,317.0 L535.7,319.0 L536.7,320.9 L537.7,322.6 L538.7,324.3 L539.7,326.0 L540.7,328.0 L541.7,330.1 L542.7,332.3 L543.7,334.7 L544.7,337.2 L545.7,339.8 L546.7,342.5 L547.7,345.1 L548.7,347.8 L549.7,350.4 L550.7,353.0 L551.7,355.6 L552.7,358.0 L553.7,360.4 L554.7,362.7 L555.7,365.0 L556.7,367.2 L557.7,369.3 L558.7,371.4 L559.7,373.5 L560.7,375.5 L561.7,377.5 L562.7,379.5 L563.7,381.4 L564.7,383.3 L565.7,385.2 L566.7,387.0 L567.7,388.8 L568.7,390.5 L569.7,392.2 L570.7,393.9 L571.7,395.5 L572.7,397.1 L573.7,398.6 L574.7,400.0 L575.7,401.4 L576.7,402.7 L577.7,404.0 L578.7,405.2 L579.7,406.4 L580.7,407.5 L581.7,408.5 L582.7,409.5 L583.7,410.4 L584.7,411.2 L585.7,412.0 L586.7,412.7 L587.7,413.4 L588.7,414.0 L589.7,414.5 L590.7,415.1 L591.7,415.6 L592.7,416.0 L593.7,416.4 L594.7,416.8 L595.7,417.1 L596.7,417.4 L597.7,417.7 L598.7,417.8 L599.7,417.9 L600.7,418.0 L601.7,418.0 L602.7,417.9 L603.7,417.7 L604.7,417.5 L605.7,417.3 L606.7,416.9 L607.7,416.5 L608.7,416.1 L609.7,415.5 L610.7,414.9 L611.7,414.3 L612.7,413.6 L613.7,413.0 L614.7,412.2 L615.7,411.5 L616.7,410.8 L617.7,410.0 L618.7,409.2 L619.7,408.3 L620.7,407.4 L621.7,406.5 L622.7,405.6 L623.7,404.6 L624.7,403.5 L625.7,402.5 L626.7,401.4 L627.7,400.2 L628.7,399.1 L629.7,397.9 L630.7,396.7 L631.7,395.4 L632.7,394.1 L633.7,392.7 L634.7,391.4 L635.7,389.9 L636.7,388.5 L637.7,387.0 L638.7,385.6 L639.7,384.1 L640.7,382.6 L641.7,381.1 L642.7,379.6 L643.7,378.1 L644.7,376.6 L645.7,375.1 L646.7,373.6 L647.7,372.0 L648.7,370.5 L649.7,368.9 L650.7,367.3 L651.7,365.6 L652.7,363.9 L653.7,362.2 L654.7,360.4 L655.7,358.6 L656.7,356.6 L657.7,354.7 L658.7,352.6 L659.7,350.5 L660.7,348.4 L661.7,346.3 L662.7,344.2 L663.7,342.1 L664.7,340.0 L665.7,338.0 L666.7,335.9 L667.7,333.9 L668.7,331.9 L669.7,329.9 L670.7,327.9 L671.7,326.0 L672.7,324.0 L673.7,322.1 L674.7,320.1 L675.7,318.2 L676.7,316.3 L677.7,314.4 L678.7,312.4 L679.7,310.5 L680.7,308.6 L681.7,306.8 L682.7,304.9 L683.7,303.0 L684.7,301.2 L685.7,299.3 L686.7,297.5 L687.7,295.6 L688.7,293.8 L689.7,291.9 L690.7,290.0 L691.7,288.0 L692.7,286.0 L693.7,283.9 L694.7,281.8 L695.7,279.5 L696.7,277.2 L697.7,274.8 L698.7,272.4 L699.7,269.9 L700.7,267.5 L701.7,265.0 L702.7,262.6 L703.7,260.3 L704.7,257.9 L705.7,255.6 L706.7,253.3 L707.7,250.9 L708.7,248.6 L709.7,246.3 L710.7,244.0 L711.7,241.7 L712.7,239.4 L713.7,237.1 L714.7,234.8 L715.7,232.4 L716.7,230.0 L717.7,227.7 L718.7,225.2 L719.7,222.8 L720.7,220.4 L721.7,217.9 L722.7,215.4 L723.7,212.9 L724.7,210.4 L725.7,207.8 L726.7,205.3 L727.7,202.8 L728.7,200.3 L729.7,197.7 L730.7,195.2 L731.7,192.7 L732.7,190.2 L733.7,187.7 L734.7,185.2 L735.7,182.8 L736.7,180.3 L737.7,177.9 L738.7,175.6 L739.7,173.2 L740.7,171.0 L741.7,168.8 L742.7,166.6 L743.7,164.4 L744.7,162.3 L745.7,160.1 L746.7,157.9 L747.7,155.7 L748.7,153.4 L749.7,151.0 L750.7,148.5 L751.7,145.9 L752.7,143.2 L753.7,140.5 L754.7,137.7 L755.7,134.9 L756.7,132.1 L757.7,129.2 L758.7,126.4 L759.7,123.7 L760.7,121.0 L761.7,118.3 L762.7,115.7 L763.7,113.2 L764.7,110.7 L765.7,108.3 L766.7,105.9 L767.7,103.6 L768.7,101.4 L769.7,99.2 L770.7,97.0 L771.7,94.9 L772.7,92.8 L773.7,90.8 L774.7,88.8 L775.7,86.9 L776.7,84.9 L777.7,83.0 L778.7,81.1 L779.7,79.3 L780.7,77.5 L781.7,75.8 L782.7,74.1 L783.7,72.5 L784.7,71.0 L785.7,69.6 L786.7,68.2 L787.7,67.0 L788.7,65.8 L789.7,64.6 L790.7,63.5 L791.7,62.5 L792.7,61.4 L793.7,60.4 L794.7,59.4 L795.7,58.3 L796.7,57.3 L797.7,56.4 L798.7,55.4 L799.7,54.5 L800.7,53.5 L801.7,52.6 L802.7,51.8 L803.7,50.9 L804.7,50.1 L805.5,49.5 L807.5,48.0" stroke="#00ff00" stroke-width="4.7" stroke-dasharray="13.85 4.58"/>
</g>
<g fill="none" stroke-width="1">
<path d="M68.50,503.6 v-9.2 M68.50,29.5 v9.2 M232.50,503.6 v-9.2 M232.50,29.5 v9.2 M396.50,503.6 v-9.2 M396.50,29.5 v9.2 M559.50,503.6 v-9.2 M559.50,29.5 v9.2 M723.50,503.6 v-9.2 M723.50,29.5 v9.2 M53.5,39.50 h9.2 M820.5,39.50 h-9.2 M53.5,116.50 h9.2 M820.5,116.50 h-9.2 M53.5,194.50 h9.2 M820.5,194.50 h-9.2 M53.5,272.50 h9.2 M820.5,272.50 h-9.2 M53.5,349.50 h9.2 M820.5,349.50 h-9.2 M53.5,427.50 h9.2 M820.5,427.50 h-9.2" stroke="#6c6c6c"/>
<path d="M157.50,503.6 v-3.0 M157.50,29.5 v3.0 M180.50,503.6 v-3.0 M180.50,29.5 v3.0 M194.50,503.6 v-3.0 M194.50,29.5 v3.0 M204.50,503.6 v-3.0 M204.50,29.5 v3.0 M211.50,503.6 v-3.0 M211.50,29.5 v3.0 M218.50,503.6 v-3.0 M218.50,29.5 v3.0 M223.50,503.6 v-3.0 M223.50,29.5 v3.0 M228.50,503.6 v-3.0 M228.50,29.5 v3.0 M320.50,503.6 v-3.0 M320.50,29.5 v3.0 M343.50,503.6 v-3.0 M343.50,29.5 v3.0 M357.50,503.6 v-3.0 M357.50,29.5 v3.0 M367.50,503.6 v-3.0 M367.50,29.5 v3.0 M375.50,503.6 v-3.0 M375.50,29.5 v3.0 M381.50,503.6 v-3.0 M381.50,29.5 v3.0 M387.50,503.6 v-3.0 M387.50,29.5 v3.0 M391.50,503.6 v-3.0 M391.50,29.5 v3.0 M484.50,503.6 v-3.0 M484.50,29.5 v3.0 M507.50,503.6 v-3.0 M507.50,29.5 v3.0 M521.50,503.6 v-3.0 M521.50,29.5 v3.0 M531.50,503.6 v-3.0 M531.50,29.5 v3.0 M539.50,503.6 v-3.0 M539.50,29.5 v3.0 M545.50,503.6 v-3.0 M545.50,29.5 v3.0 M550.50,503.6 v-3.0 M550.50,29.5 v3.0 M555.50,503.6 v-3.0 M555.50,29.5 v3.0 M648.50,503.6 v-3.0 M648.50,29.5 v3.0 M671.50,503.6 v-3.0 M671.50,29.5 v3.0 M685.50,503.6 v-3.0 M685.50,29.5 v3.0 M695.50,503.6 v-3.0 M695.50,29.5 v3.0 M702.50,503.6 v-3.0 M702.50,29.5 v3.0 M709.50,503.6 v-3.0 M709.50,29.5 v3.0 M714.50,503.6 v-3.0 M714.50,29.5 v3.0 M719.50,503.6 v-3.0 M719.50,29.5 v3.0 M53.5,93.50 h3.0 M820.5,93.50 h-3.0 M53.5,79.50 h3.0 M820.5,79.50 h-3.0 M53.5,70.50 h3.0 M820.5,70.50 h-3.0 M53.5,62.50 h3.0 M820.5,62.50 h-3.0 M53.5,56.50 h3.0 M820.5,56.50 h-3.0 M53.5,51.50 h3.0 M820.5,51.50 h-3.0 M53.5,46.50 h3.0 M820.5,46.50 h-3.0 M53.5,42.50 h3.0 M820.5,42.50 h-3.0 M53.5,171.50 h3.0 M820.5,171.50 h-3.0 M53.5,157.50 h3.0 M820.5,157.50 h-3.0 M53.5,147.50 h3.0 M820.5,147.50 h-3.0 M53.5,140.50 h3.0 M820.5,140.50 h-3.0 M53.5,134.50 h3.0 M820.5,134.50 h-3.0 M53.5,128.50 h3.0 M820.5,128.50 h-3.0 M53.5,124.50 h3.0 M820.5,124.50 h-3.0 M53.5,120.50 h3.0 M820.5,120.50 h-3.0 M53.5,248.50 h3.0 M820.5,248.50 h-3.0 M53.5,235.50 h3.0 M820.5,235.50 h-3.0 M53.5,225.50 h3.0 M820.5,225.50 h-3.0 M53.5,217.50 h3.0 M820.5,217.50 h-3.0 M53.5,211.50 h3.0 M820.5,211.50 h-3.0 M53.5,206.50 h3.0 M820.5,206.50 h-3.0 M53.5,202.50 h3.0 M820.5,202.50 h-3.0 M53.5,198.50 h3.0 M820.5,198.50 h-3.0 M53.5,326.50 h3.0 M820.5,326.50 h-3.0 M53.5,312.50 h3.0 M820.5,312.50 h-3.0 M53.5,302.50 h3.0 M820.5,302.50 h-3.0 M53.5,295.50 h3.0 M820.5,295.50 h-3.0 M53.5,289.50 h3.0 M820.5,289.50 h-3.0 M53.5,284.50 h3.0 M820.5,284.50 h-3.0 M53.5,279.50 h3.0 M820.5,279.50 h-3.0 M53.5,275.50 h3.0 M820.5,275.50 h-3.0 M53.5,403.50 h3.0 M820.5,403.50 h-3.0 M53.5,390.50 h3.0 M820.5,390.50 h-3.0 M53.5,380.50 h3.0 M820.5,380.50 h-3.0 M53.5,372.50 h3.0 M820.5,372.50 h-3.0 M53.5,366.50 h3.0 M820.5,366.50 h-3.0 M53.5,361.50 h3.0 M820.5,361.50 h-3.0 M53.5,357.50 h3.0 M820.5,357.50 h-3.0 M53.5,353.50 h3.0 M820.5,353.50 h-3.0 M53.5,481.50 h3.0 M820.5,481.50 h-3.0 M53.5,467.50 h3.0 M820.5,467.50 h-3.0 M53.5,458.50 h3.0 M820.5,458.50 h-3.0 M53.5,450.50 h3.0 M820.5,450.50 h-3.0 M53.5,444.50 h3.0 M820.5,444.50 h-3.0 M53.5,439.50 h3.0 M820.5,439.50 h-3.0 M53.5,434.50 h3.0 M820.5,434.50 h-3.0 M53.5,430.50 h3.0 M820.5,430.50 h-3.0" stroke="#111"/>
<rect x="53.5" y="29.5" width="767.0" height="474.1" stroke="#4a4a4a"/>
</g>
<g fill="none" stroke-linecap="butt">
<path d="M65.7,74.2 H112" stroke="#0000ff" stroke-width="4.7"/>
<path d="M65.7,118.4 H107.5" stroke="#ff0000" stroke-width="4.7" stroke-dasharray="7.1 4.4"/>
<path d="M65.7,167 H112" stroke="#00ff00" stroke-width="4.7" stroke-dasharray="13.85 4.58"/>
</g>
<g fill="#000" opacity="0.999">
<text transform="translate(50.10,533.1) scale(0.95,1)" font-size="21">10</text><path d="M71.05,519.60 h7.4" stroke="#000" stroke-width="1.05" fill="none"/><text transform="translate(79.30,523.7) scale(0.95,1)" font-size="15">9</text>
<text transform="translate(213.80,533.1) scale(0.95,1)" font-size="21">10</text><path d="M234.75,519.60 h7.4" stroke="#000" stroke-width="1.05" fill="none"/><text transform="translate(243.00,523.7) scale(0.95,1)" font-size="15">7</text>
<text transform="translate(377.50,533.1) scale(0.95,1)" font-size="21">10</text><path d="M398.45,519.60 h7.4" stroke="#000" stroke-width="1.05" fill="none"/><text transform="translate(406.70,523.7) scale(0.95,1)" font-size="15">5</text>
<text transform="translate(559.8,530.6) scale(0.985,1)" text-anchor="middle" font-size="21">0.001</text>
<text transform="translate(723.5,530.6) scale(0.95,1)" text-anchor="middle" font-size="21">0.1</text>
<text transform="translate(45.0,46.5) scale(0.95,1)" text-anchor="end" font-size="21">1</text>
<text transform="translate(45.0,124.0) scale(0.95,1)" text-anchor="end" font-size="21">0.1</text>
<text transform="translate(45.0,201.6) scale(0.95,1)" text-anchor="end" font-size="21">0.01</text>
<text transform="translate(45.0,279.1) scale(0.985,1)" text-anchor="end" font-size="21">0.001</text>
<text transform="translate(8.40,358.4) scale(0.95,1)" font-size="21">10</text><path d="M29.35,345.40 h7.4" stroke="#000" stroke-width="1.05" fill="none"/><text transform="translate(37.60,349.0) scale(0.95,1)" font-size="15">4</text>
<text transform="translate(8.40,435.9) scale(0.95,1)" font-size="21">10</text><path d="M29.35,422.95 h7.4" stroke="#000" stroke-width="1.05" fill="none"/><text transform="translate(37.60,426.6) scale(0.95,1)" font-size="15">5</text>
<text transform="translate(437.1,572.9) scale(0.95,1)" text-anchor="middle" font-size="21">a</text>
<text transform="translate(123.87,82.5) scale(1,1)" font-size="23.6">Ω</text>
<text transform="translate(141.72,86.9) scale(1,1)" font-size="16.5">M</text>
<text transform="translate(123.87,126.7) scale(1,1)" font-size="23.6">Ω</text>
<text transform="translate(142.05,129.8) scale(1.25,1)" font-size="15.5" font-style="italic">γ</text>
<text transform="translate(123.87,176.0) scale(1,1)" font-size="23.6">Ω</text>
<text transform="translate(141.26,179.9) scale(1,1)" font-size="16.5">ede</text>
<text transform="translate(165.35,174.8) scale(1,1)" font-size="21.5">(</text>
<text transform="translate(172.19,175.75) scale(1,1)" font-size="23">a</text>
<text transform="translate(183.57,178.9) scale(1,1)" font-size="16.5">c</text>
<path d="M192.6,167.3 H204.9 M192.6,172.6 H204.9" stroke="#000" stroke-width="1.3" fill="none"/>
<text transform="translate(206.25,175.75) scale(0.95,1)" font-size="23">9</text>
<path d="M219.0,163.1 L230.7,175.2 M230.7,163.1 L219.0,175.2" stroke="#000" stroke-width="1.25" fill="none"/>
<text transform="translate(233.27,175.75) scale(0.93,1)" font-size="23">10</text>
<path d="M256.6,162.8 H265.4" stroke="#000" stroke-width="1.25" fill="none"/>
<text transform="translate(266.32,166.2) scale(0.85,1)" font-size="16.5">4</text>
<text transform="translate(275.21,174.8) scale(1,1)" font-size="21.5">)</text>
</g>
</svg>
</body></html>
